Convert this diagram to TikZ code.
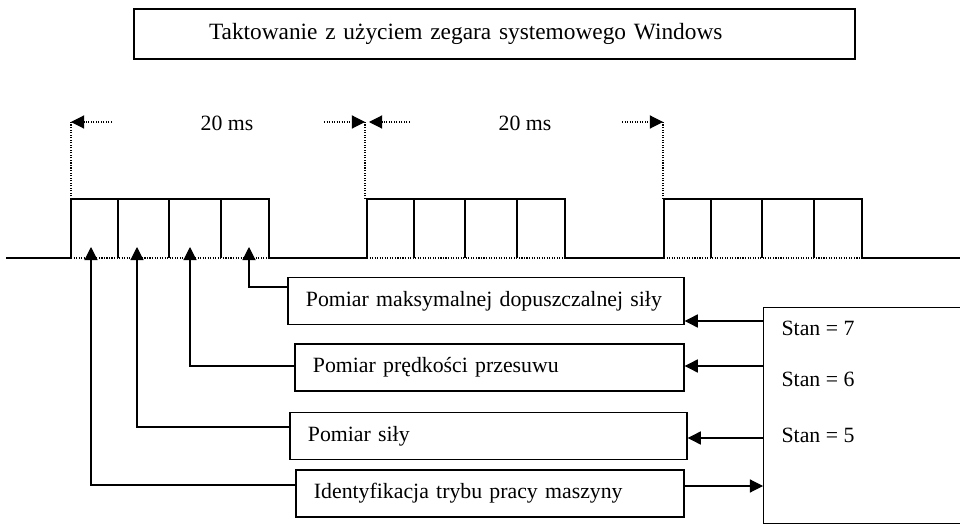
\documentclass[tikz,border=0pt]{standalone}
\usepackage{fontspec}
\setmainfont{Liberation Serif}
\usetikzlibrary{positioning,arrows.meta}
\newcommand{\bodyfont}{\fontsize{15.5}{18}\selectfont}
\newcommand{\titlefont}{\fontsize{16.6}{20}\selectfont}

\begin{document}
\begin{tikzpicture}[x=0.025cm,y=-0.025cm,line width=0.8pt,font=\bodyfont]
 \tikzset{arrow/.style={-{Triangle[length=0.33cm,width=0.33cm]}},
   dots/.style={densely dotted,line width=0.8pt},
   msgbox/.style={draw,line width=0.9pt,inner xsep=0.45cm,minimum height=1.16cm,align=left},
   titlebox/.style={draw,line width=1.4pt,inner xsep=1.875cm,minimum height=1.25cm,align=left,font=\titlefont}}
 \useasboundingbox (0,0) rectangle (960,524);
 \clip (0,0) rectangle (960,524);

 % naglowek
 \node[titlebox,anchor=north west,text width=14.275cm] (title) at (133,8) {Taktowanie z użyciem zegara systemowego Windows};

 % przebieg czasowy
 \draw (6,258) -- (71,258) (269,258) -- (367,258) (565,258) -- (664,258) (862,258) -- (960,258);
 \foreach \p in {71,367,664} {
   \draw (\p,258) -- (\p,199) -- (\p+198,199) -- (\p+198,258);
   \draw[dots] (\p,258) -- (\p+198,258);
   \foreach \d in {47,98,150} \draw (\p+\d,199) -- (\p+\d,258);
 }
 \foreach \p in {71,365,663} \draw[dots] (\p,199) -- (\p,122);

 % okres 20 ms
 \coordinate (a1) at (112,122); \coordinate (b1) at (71,122);
 \coordinate (a2) at (324,122); \coordinate (b2) at (365,122);
 \coordinate (a3) at (410,122); \coordinate (b3) at (369,122);
 \coordinate (a4) at (622,122); \coordinate (b4) at (663,122);
 \foreach \i in {1,...,4} \draw[dots,arrow] (a\i) -- (b\i);
 \node (T1) at (227,123) {20 ms};
 \node (T2) at (525,123) {20 ms};

 % pomiary
 \node[msgbox,text width=9.0cm] (m1) at (486,301) {Pomiar maksymalnej dopuszczalnej siły};
 \node[msgbox,text width=8.825cm,minimum height=1.175cm] (m2) at (489.5,367.5) {Pomiar prędkości przesuwu};
 \node[msgbox,text width=9.025cm] (m3) at (488.5,436) {Pomiar siły};
 \node[msgbox,text width=8.8cm,minimum height=1.175cm] (m4) at (490,493.5) {Identyfikacja trybu pracy maszyny};

 \coordinate (t1) at (91,247);
 \coordinate (t2) at (137,247);
 \coordinate (t3) at (190,247);
 \coordinate (t4) at (249,247);
 \draw[arrow] (m1.west |- 0,287) -| (t4);
 \draw[arrow] (m2.west |- 0,366) -| (t3);
 \draw[arrow] (m3.west |- 0,427) -| (t2);
 \draw[arrow] (m4.west |- 0,485) -| (t1);

 % stany
 \node[draw,line width=0.9pt,anchor=north west,minimum width=8cm,minimum height=5.4cm] (stan) at (763,307) {};
 \node[anchor=west,inner sep=0] (s7) at (781,328) {Stan = 7};
 \node[anchor=west,inner sep=0] (s6) at (781,379) {Stan = 6};
 \node[anchor=west,inner sep=0] (s5) at (781,435) {Stan = 5};

 \draw[arrow] (stan.west |- 0,321) -- (m1.east |- 0,321);
 \draw[arrow] (stan.west |- 0,366) -- (m2.east |- 0,366);
 \draw[arrow] (stan.west |- 0,438) -- (m3.east |- 0,438);
 \draw[arrow] (m4.east |- 0,486) -- (stan.west |- 0,486);
\end{tikzpicture}
\end{document}
